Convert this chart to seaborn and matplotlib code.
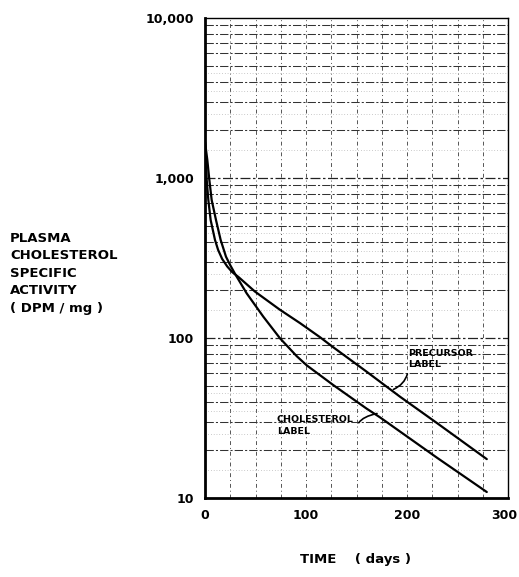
import numpy as np
import pandas as pd
import matplotlib
matplotlib.use("Agg")
import matplotlib.pyplot as plt
import matplotlib.transforms as mtransforms
import seaborn as sns
from matplotlib.ticker import FixedLocator, FixedFormatter, NullFormatter

# ---- data ----
precursor_days = [0, 1, 1.7, 3.3, 5.6, 9.9, 13, 17, 22, 27, 33, 49.5, 74.3, 94, 114, 127, 160, 193, 230, 279]
precursor_act = [1680, 1296, 972, 729, 546, 410, 355, 312, 280, 258, 241, 195, 150, 124, 101, 87.5, 61.6, 43, 29.3, 17.5]

cholesterol_days = [0, 2.3, 4.3, 6.6, 10.9, 15.5, 20.8, 25, 30, 41.3, 57.7, 74.3, 90.8, 100.7, 127, 160, 173, 230, 279]
cholesterol_act = [1680, 1296, 972, 729, 546, 410, 322, 285, 250, 190, 136, 99.5, 77, 67.5, 50.8, 36.2, 32, 17.8, 10.9]

series_names = ["PRECURSOR LABEL", "CHOLESTEROL LABEL"]

y_ticks = [10, 100, 1000, 10000]
y_ticklabels = ["10", "100", "1,000", "10,000"]
x_ticks = [0, 100, 200, 300]
x_ticklabels = ["0", "100", "200", "300"]

df = pd.concat([
    pd.DataFrame({"days": precursor_days, "activity": precursor_act, "series": series_names[0]}),
    pd.DataFrame({"days": cholesterol_days, "activity": cholesterol_act, "series": series_names[1]}),
], ignore_index=True)

sns.set_style("white")
plt.rcParams['font.family'] = ['DejaVu Sans']
plt.rcParams['text.color'] = 'black'
plt.rcParams['xtick.color'] = 'black'
plt.rcParams['ytick.color'] = 'black'

fig = plt.figure(figsize=(5.19, 5.77), dpi=100)
ax = fig.add_axes([205/519, 1 - 498/577, 303/519, 480/577])

# graph-paper grid
for v in np.arange(25, 300, 25):
    ax.axvline(v, color="#555555", lw=0.7, ls=(0, (4, 3, 1, 3)), zorder=0)
for dec in [10, 100, 1000]:
    for m in range(2, 10):
        ax.axhline(dec * m, color="#333333", lw=0.75, ls=(0, (8, 2, 2, 2)), zorder=0)
    for m in [1.5, 2.5, 3.5, 4.5]:
        ax.axhline(dec * m, color="#999999", lw=0.5, ls=(0, (1, 3)), zorder=0)
for dec in [100, 1000]:
    ax.axhline(dec, color="#222222", lw=0.9, ls=(0, (8, 2, 2, 2)), zorder=0)

sns.lineplot(data=df, x="days", y="activity", hue="series", sort=False,
             palette=["black", "black"], linewidth=1.6, legend=False, ax=ax, zorder=3)

ax.set_yscale("log")
ax.set_xlim(0, 300)
ax.set_ylim(10, 10000)

ax.yaxis.set_major_locator(FixedLocator(y_ticks))
ax.yaxis.set_major_formatter(FixedFormatter(y_ticklabels))
ax.yaxis.set_minor_formatter(NullFormatter())
ax.xaxis.set_major_locator(FixedLocator(x_ticks))
ax.xaxis.set_major_formatter(FixedFormatter(x_ticklabels))
ax.tick_params(axis="both", which="both", length=0, labelsize=9, pad=8)
for lab in ax.get_xticklabels() + ax.get_yticklabels():
    lab.set_fontweight("bold")
# keep the last x label inside the canvas
last = ax.get_xticklabels()[-1]
last.set_transform(last.get_transform() + mtransforms.ScaledTranslation(-4/100, 0, fig.dpi_scale_trans))

for s in ["left", "bottom"]:
    ax.spines[s].set_linewidth(2.0)
    ax.spines[s].set_color("black")
for s in ["top", "right"]:
    ax.spines[s].set_linewidth(1.0)
    ax.spines[s].set_color("black")

ax.set_xlabel("")
ax.set_ylabel("")

# curve labels
ax.text(0.67, 0.31, "PRECURSOR\nLABEL", transform=ax.transAxes, fontsize=6.8,
        fontweight="bold", va="top", ha="left", linespacing=1.3)
ax.text(0.237, 0.172, "CHOLESTEROL\nLABEL", transform=ax.transAxes, fontsize=6.8,
        fontweight="bold", va="top", ha="left", linespacing=1.3)
ax.annotate("", xy=(184, 47), xytext=(201, 62),
            arrowprops=dict(arrowstyle="-", lw=1.2, color="black",
                            connectionstyle="angle3,angleA=80,angleB=20"))
ax.annotate("", xy=(173, 34), xytext=(151, 28.5),
            arrowprops=dict(arrowstyle="-", lw=1.2, color="black",
                            connectionstyle="angle3,angleA=70,angleB=10"))

fig.text(10/519, 1 - 232/577, "PLASMA\nCHOLESTEROL\nSPECIFIC\nACTIVITY\n( DPM / mg )",
         fontsize=9.5, fontweight="bold", va="top", ha="left", linespacing=1.45)
fig.text(356/519, 1 - 560/577, "TIME    ( days )", fontsize=9.5, fontweight="bold",
         va="center", ha="center")

fig.savefig("out.png", dpi=100)
